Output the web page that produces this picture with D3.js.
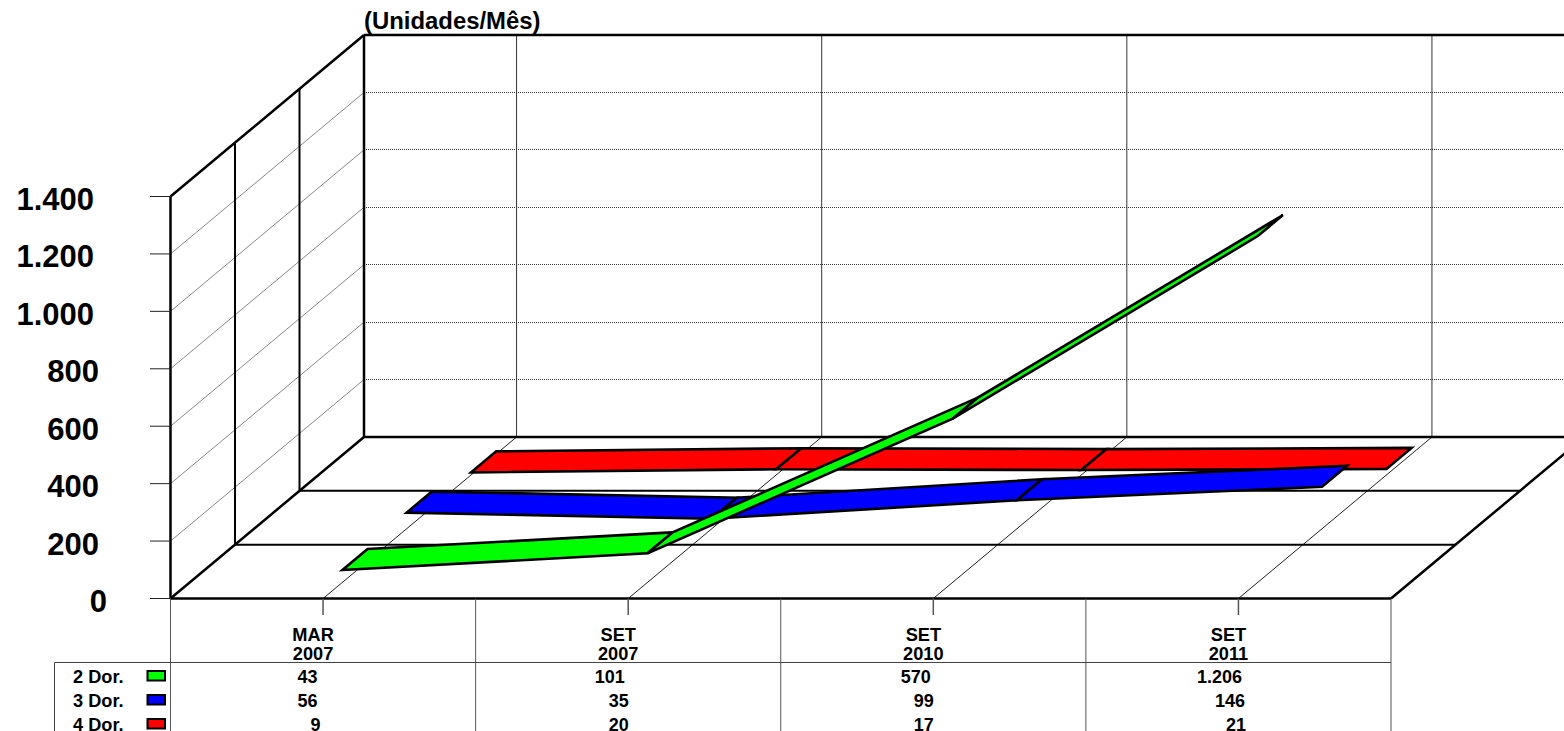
<!DOCTYPE html>
<html><head><meta charset="utf-8">
<style>html,body{margin:0;padding:0;background:#fff;overflow:hidden}svg{display:block}text{font-family:"Liberation Sans",Arial,sans-serif;font-weight:bold;fill:#000}</style>
<script src="https://cdn.jsdelivr.net/npm/d3@7/dist/d3.min.js"></script></head><body>
<script>
const categories=[["MAR","2007"],["SET","2007"],["SET","2010"],["SET","2011"]];
const valueLabels=[["43","101","570","1.206"],["56","35","99","146"],["9","20","17","21"]];
const seriesNames=["2 Dor.","3 Dor.","4 Dor."];
const seriesColors=["#00ff00","#0000ff","#ff0000"];
const dor2=[43,101,570,1206];
const dor3=[56,35,99,146];
const dor4=[9,20,17,21];
const seriesValues=[dor2,dor3,dor4];
const yTicks=[0,200,400,600,800,1000,1200,1400];
const yTickLabels=["0","200","400","600","800","1.000","1.200","1.400"];

// layout only: right edge of each value label relative to its column centre
const valueRightOffset=[[-5.5,-3.5,-2.5,3.5],[-5.5,0.5,0.5,6.5],[-2.5,0.5,0.5,7.5]];
const yLabelRight={1:107,3:99,5:94};

const W=1564,H=731;
const svg=d3.select("body").append("svg").attr("width",W).attr("height",H);
const y=d3.scaleLinear().domain([0,1400]).range([598.5,196.5]);
const x=d3.scaleBand().domain(d3.range(4)).range([170.5,1391]);
const cx=i=>x(i)+x.bandwidth()/2;
const depX=d3.scaleLinear().domain([0,1]).range([0,193.5]);
const depY=d3.scaleLinear().domain([0,1]).range([0,-161.5]);
const line=(x1,y1,x2,y2,w,c)=>svg.append("line").attr("x1",x1).attr("y1",y1).attr("x2",x2).attr("y2",y2).attr("stroke",c||"#000").attr("stroke-width",w);
const x0=x.range()[0],x1=x.range()[1],y0=y(0),yT=y(1400);

// gridlines: back wall (fine dotted) and left wall
yTicks.slice(1,-1).forEach(v=>{
  const yy=y(v)+depY(1), ys=Math.floor(yy)+0.5;
  line(x0+depX(1),ys,W,ys,1,"#333").attr("stroke-dasharray","1,1");
  line(x0,y(v),x0+depX(1),yy,1,"#888");
});
// back wall verticals + floor depth lines
d3.range(4).map(cx).forEach(c=>{
  line(c+depX(1),y0+depY(1),c+depX(1),yT+depY(1),1,"#333");
  line(c,y0,c+depX(1),y0+depY(1),1,"#222");
});
// floor lanes
[1/3,2/3].forEach(d=>{
  line(x0+depX(d),y0+depY(d),x1+depX(d),y0+depY(d),2);
  line(x0+depX(d),y0+depY(d),x0+depX(d),yT+depY(d),2);
});
// frame
line(x0,y0,x0+depX(1),y0+depY(1),2.5);
line(x0,yT,x0+depX(1),yT+depY(1),2.5);
line(x0,y0,x0,yT,2.5);
line(x0+depX(1),y0+depY(1),x0+depX(1),yT+depY(1),2.5);
line(x0+depX(1),yT+depY(1),W,yT+depY(1),2.5);
line(x0+depX(1),y0+depY(1),W,y0+depY(1),2.5);
line(x0,y0,x1,y0,2.5);
line(x1,y0,x1+depX(1),y0+depY(1),2.5);
// y ticks & labels
yTicks.forEach((v,i)=>{
  line(150,y(v),x0,y(v),1,"#222");
  const t=yTickLabels[i];
  svg.append("text").attr("x",yLabelRight[t.length]).attr("y",y(v)+13.5).attr("text-anchor","end").attr("font-size",31).text(t);
});
// ribbons, back to front
const laneNear=[0.1,0.432,0.765], laneWidth=0.13;
[2,1,0].forEach(s=>{
  const vals=seriesValues[s];
  d3.range(3).forEach(i=>{
    const pt=(k,d)=>[cx(k)+depX(d),y(vals[k])+depY(d)];
    const n=laneNear[s],f=n+laneWidth;
    svg.append("path").attr("d",d3.line()([pt(i,n),pt(i+1,n),pt(i+1,f),pt(i,f)])+"Z")
      .attr("fill",seriesColors[s]).attr("stroke","#000").attr("stroke-width",2.6).attr("stroke-linejoin","miter");
  });
});
// title
svg.append("text").attr("x",364).attr("y",29).attr("font-size",23.9).text("(Unidades/Mês)");
// table
d3.range(5).forEach(i=>{const xx=i<4?x(i):x1;line(xx,y0,xx,H,1,"#555");});
d3.range(4).map(cx).forEach(c=>line(c,y0,c,615,1.5,"#555"));
line(54.5,662.5,x1,662.5,1,"#444");
line(54.5,662.5,54.5,H,1,"#444");
categories.forEach((c,i)=>{
  c.forEach((t,j)=>svg.append("text").attr("x",cx(i)-10).attr("y",640.5+j*19.5).attr("text-anchor","middle").attr("font-size",18.2).text(t));
});
seriesNames.forEach((n,s)=>{
  const yy=683+s*24;
  svg.append("text").attr("x",73).attr("y",yy).attr("font-size",18.2).text(n);
  svg.append("rect").attr("x",147.5).attr("y",yy-12).attr("width",17.5).attr("height",9.5).attr("fill",seriesColors[s]).attr("stroke","#000").attr("stroke-width",2);
  valueLabels[s].forEach((t,i)=>svg.append("text").attr("x",cx(i)+valueRightOffset[s][i]).attr("y",yy).attr("text-anchor","end").attr("font-size",18).text(t));
});
</script></body></html>
